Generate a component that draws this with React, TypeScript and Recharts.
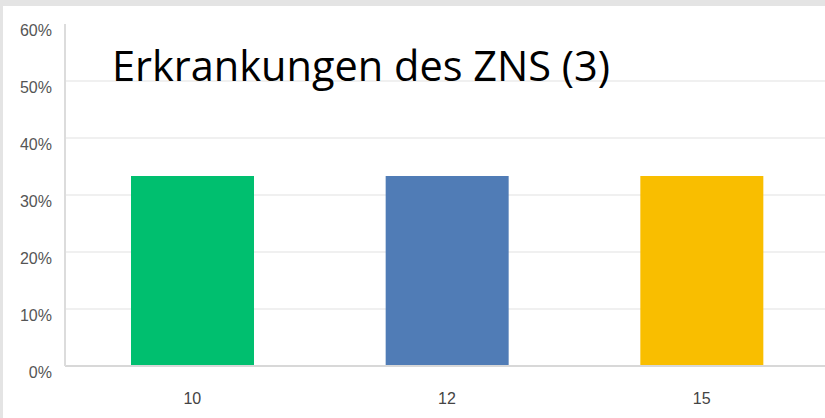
import { BarChart, Bar, XAxis, YAxis, CartesianGrid, Cell } from 'recharts';

const categories = ['10', '12', '15'];
const shares = [33.33, 33.33, 33.33];
const barColors = ['#00bf6f', '#507cb6', '#f9be00'];
const yTicks = [0, 10, 20, 30, 40, 50, 60];

const chartData = categories.map((name, i) => ({ name, share: shares[i] }));

function YTick(props: any) {
  const { x, y, payload } = props;
  return (
    <text
      x={x - 5}
      y={y + 8}
      textAnchor="end"
      dominantBaseline="middle"
      fill="#555"
      fontSize={16}
      fontFamily="Liberation Sans, Arial, sans-serif"
    >
      {payload.value}%
    </text>
  );
}

function XTick(props: any) {
  const { x, y, payload } = props;
  return (
    <text
      x={x}
      y={y + 26}
      textAnchor="middle"
      dominantBaseline="middle"
      fill="#444"
      fontSize={16}
      fontFamily="Liberation Sans, Arial, sans-serif"
    >
      {payload.value}
    </text>
  );
}

export default function App() {
  return (
    <div
      style={{
        position: 'absolute',
        left: 0,
        top: 0,
        width: 825,
        height: 418,
        background: '#e4e4e4',
        overflow: 'hidden',
      }}
    >
      <div
        style={{
          position: 'absolute',
          left: 3,
          top: 6,
          width: 830,
          height: 412,
          background: '#fff',
        }}
      >
        <BarChart
          width={830}
          height={412}
          data={chartData}
          margin={{ top: 18, right: 4, left: 0, bottom: 22 }}
          barSize={123}
        >
          <CartesianGrid
            vertical={false}
            stroke="#ebebeb"
            strokeWidth={1.5}
            horizontalValues={[10, 20, 30, 40, 50]}
          />
          <XAxis
            dataKey="name"
            height={30}
            tickLine={false}
            axisLine={{ stroke: '#d8d8d8', strokeWidth: 2 }}
            tick={<XTick />}
            interval={0}
          />
          <YAxis
            width={62}
            domain={[0, 60]}
            ticks={yTicks}
            tickLine={false}
            axisLine={{ stroke: '#dcdcdc', strokeWidth: 2 }}
            tick={<YTick />}
            interval={0}
          />
          <Bar dataKey="share" isAnimationActive={false}>
            {chartData.map((d, i) => (
              <Cell key={d.name} fill={barColors[i]} />
            ))}
          </Bar>
        </BarChart>
        <div
          style={{
            position: 'absolute',
            left: 109,
            top: 31,
            fontFamily: 'Open Sans, sans-serif',
            fontSize: 41.5,
            color: '#000',
            whiteSpace: 'nowrap',
          }}
        >
          Erkrankungen des ZNS (3)
        </div>
      </div>
    </div>
  );
}
